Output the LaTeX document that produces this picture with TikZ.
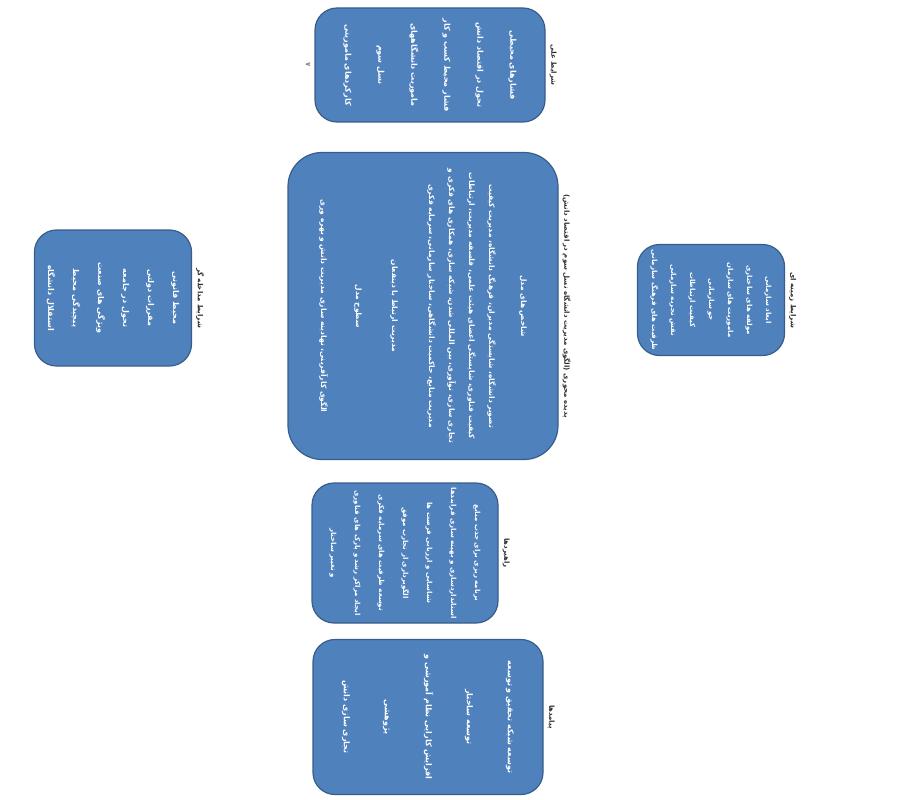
\documentclass[tikz,border=0pt]{standalone}
\usepackage{fontspec}
\usepackage{xcolor}
\newfontfamily\fafont[Script=Arabic]{DejaVu Sans}
\TeXXeTstate=1
\newcommand{\fa}[1]{\beginR #1\endR}
\definecolor{boxfill}{HTML}{4F81BD}
\definecolor{boxline}{HTML}{385D8A}
\definecolor{lblgray}{HTML}{2E2E2E}

\begin{document}
\begin{tikzpicture}[
    x=1pt, y=-1pt,
    card/.style={rectangle, rounded corners=22pt, draw=boxline, line width=1.2pt, fill=boxfill, text=white, align=center, rotate=-90, inner sep=0pt},
    caption/.style={rotate=-90, anchor=south, outer sep=3pt, inner sep=1pt, text=lblgray, align=center, font=\fafont\bfseries\fontsize{7}{8}\selectfont}
]
\useasboundingbox (0,0) rectangle (914,800);

\node[card, minimum width=114pt, minimum height=230pt, font=\fafont\bfseries\fontsize{8}{33}\selectfont] (causal) at (430,65)
    {\fa{فشارهای محیطی}\\\fa{تحول در اقتصاد دانش}\\\fa{فشار محیط کسب و کار}\\\fa{ماموریت دانشگاههای}\\\fa{نسل سوم}\\\fa{کارکردهای ماموریتی}};
\node[card, rounded corners=34pt, minimum width=307pt, minimum height=270pt, font=\fafont\bfseries\fontsize{7.5}{20}\selectfont] (core) at (423,306)
    {\fa{شاخص های مدل}\\[12pt]
     \fa{تصویر دانشگاه، شایستگی مدیران، فرهنگ دانشگاه، مدیریت کیفیت}\\
     \fa{کیفیت فناوری، شایستگی اعضای هیئت علمی، فلسفه مدیریت، ارتباطات}\\
     \fa{تجاری سازی، نوآوری، بین المللی شدن، شبکه سازی، همکاری های فکری و}\\
     \fa{مدیریت منابع، حاکمیت دانشگاهی، ساختار سازمانی، سرمایه فکری}\\[17pt]
     \fa{مدیریت ارتباط با ذینفعان}\\[16pt]
     \fa{سطوح مدل}\\[15pt]
     \fa{الگوی کارآفرینی، نهادینه سازی مدیریت دانش و بهره وری}};
\node[card, minimum width=111pt, minimum height=147pt, font=\fafont\bfseries\fontsize{7}{19}\selectfont] (context) at (711,300)
    {\fa{ابعاد سازمانی}\\\fa{مولفه های ساختاری}\\\fa{ماموریت های سازمان}\\\fa{جو سازمانی}\\\fa{کیفیت ارتباطات}\\\fa{نقش تجربه سازمانی}\\\fa{ظرفیت های فرهنگ سازمانی}};
\node[card, minimum width=136pt, minimum height=157pt, font=\fafont\bfseries\fontsize{8}{25}\selectfont] (interv) at (113,298)
    {\fa{محیط قانونی}\\\fa{مقررات دولتی}\\\fa{تحول در جامعه}\\\fa{ویژگی های صنعت}\\\fa{پیچیدگی محیط}\\\fa{استقلال دانشگاه}};
\node[card, minimum width=140pt, minimum height=186pt, font=\fafont\bfseries\fontsize{7}{24}\selectfont] (strat) at (405,553)
    {\fa{برنامه ریزی برای جذب منابع}\\\fa{استانداردسازی و بهینه سازی فرایندها}\\\fa{شناسایی و ارزیابی فرصت ها}\\\fa{الگوبرداری از تجارب موفق}\\\fa{توسعه ظرفیت های سرمایه فکری}\\\fa{ایجاد مراکز رشد و پارک های فناوری}\\\fa{و تغییر ساختار}};
\node[card, minimum width=155pt, minimum height=230pt, font=\fafont\bfseries\fontsize{8}{41}\selectfont] (conseq) at (428,717)
    {\fa{توسعه شبکه تحقیق و توسعه}\\\fa{توسعه ساختار}\\\fa{افزایش کارایی نظام آموزشی و}\\\fa{پژوهشی}\\\fa{تجاری سازی دانش}};

\node[caption] (causal-lbl) at (causal.north) {\fa{شرایط علی}};
\node[caption] (core-lbl) at (core.north) {\fa{پدیده محوری (الگوی مدیریت دانشگاه نسل سوم در اقتصاد دانش)}};
\node[caption] (context-lbl) at (context.north) {\fa{شرایط زمینه ای}};
\node[caption] (interv-lbl) at (interv.north) {\fa{شرایط مداخله گر}};
\node[caption] (strat-lbl) at (strat.north) {\fa{راهبردها}};
\node[caption] (conseq-lbl) at (conseq.north) {\fa{پیامدها}};
\node[caption, anchor=north, text=gray] (mark) at (causal.south) {۷};

\end{tikzpicture}
\end{document}
